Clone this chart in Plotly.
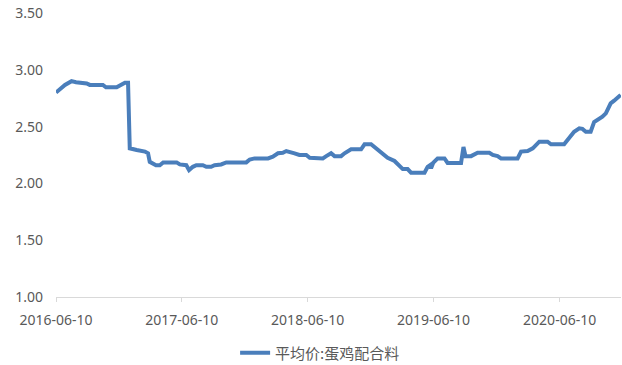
import plotly.graph_objects as go

# Weekly average price of layer compound feed (yuan/kg)
dates = [
    "2016-06-10", "2016-07-06", "2016-07-25", "2016-08-07", "2016-09-07", "2016-09-16",
    "2016-10-24", "2016-11-02", "2016-12-03", "2016-12-17", "2016-12-27", "2017-01-05",
    "2017-01-10", "2017-01-30", "2017-02-23", "2017-03-04", "2017-03-09", "2017-03-27",
    "2017-04-07", "2017-04-17", "2017-05-26", "2017-06-04", "2017-06-23", "2017-07-01",
    "2017-07-12", "2017-07-22", "2017-08-10", "2017-08-20", "2017-09-03", "2017-09-13",
    "2017-10-02", "2017-10-17", "2017-12-14", "2017-12-24", "2018-01-07", "2018-02-15",
    "2018-03-01", "2018-03-16", "2018-03-30", "2018-04-09", "2018-04-19", "2018-05-03",
    "2018-05-17", "2018-06-06", "2018-06-16", "2018-07-24", "2018-08-03", "2018-08-17",
    "2018-08-27", "2018-09-15", "2018-09-25", "2018-10-09", "2018-10-14", "2018-11-12",
    "2018-11-22", "2018-12-11", "2018-12-26", "2019-01-09", "2019-01-28", "2019-02-17",
    "2019-03-03", "2019-03-13", "2019-03-27", "2019-04-06", "2019-05-15", "2019-05-24",
    "2019-05-31", "2019-06-03", "2019-06-09", "2019-06-22", "2019-07-12", "2019-07-21",
    "2019-08-29", "2019-09-05", "2019-09-11", "2019-09-27", "2019-10-16", "2019-11-19",
    "2019-11-29", "2019-12-13", "2019-12-23", "2020-02-09", "2020-02-19", "2020-03-09",
    "2020-03-24", "2020-04-12", "2020-05-06", "2020-05-16", "2020-06-23", "2020-07-08",
    "2020-07-22", "2020-08-06", "2020-08-15", "2020-08-25", "2020-09-08", "2020-09-18",
    "2020-10-03", "2020-10-12", "2020-10-22", "2020-11-05", "2020-11-15", "2020-12-04",
]
prices = [
    2.80, 2.867, 2.90, 2.89, 2.88, 2.867,
    2.867, 2.846, 2.846, 2.876, 2.887, 2.887,
    2.309, 2.294, 2.28, 2.265, 2.19, 2.16,
    2.16, 2.185, 2.185, 2.167, 2.16, 2.117,
    2.146, 2.16, 2.16, 2.146, 2.146, 2.16,
    2.167, 2.185, 2.185, 2.21, 2.22, 2.22,
    2.235, 2.265, 2.27, 2.285, 2.28, 2.265,
    2.25, 2.25, 2.226, 2.22, 2.24, 2.265,
    2.24, 2.24, 2.265, 2.294, 2.30, 2.30,
    2.344, 2.344, 2.309, 2.273, 2.226, 2.197,
    2.16, 2.126, 2.126, 2.094, 2.094, 2.146,
    2.16, 2.132, 2.18, 2.22, 2.22, 2.18,
    2.18, 2.32, 2.24, 2.24, 2.27, 2.27,
    2.25, 2.24, 2.22, 2.22, 2.28, 2.285,
    2.309, 2.367, 2.367, 2.344, 2.344, 2.397,
    2.455, 2.485, 2.48, 2.455, 2.455, 2.54,
    2.567, 2.587, 2.617, 2.705, 2.728, 2.779,
]

x_tick_vals = ["2016-06-10", "2017-06-10", "2018-06-10", "2019-06-10", "2020-06-10"]
x_tick_text = ["2016-06-10", "2017-06-10", "2018-06-10", "2019-06-10", "2020-06-10"]
y_tick_vals = [1.0, 1.5, 2.0, 2.5, 3.0, 3.5]

series_name = "平均价:蛋鸡配合料"
line_color = "#4a7ebb"
text_color = "#595959"
axis_color = "#d9d9d9"

fig = go.Figure()
fig.add_trace(go.Scatter(
    x=dates, y=prices, mode="lines", name=series_name,
    line=dict(color=line_color, width=4),
))

fig.update_layout(
    width=622, height=365,
    margin=dict(l=56, r=1, t=13, b=68, autoexpand=False),
    paper_bgcolor="white", plot_bgcolor="white",
    font=dict(family="Noto Sans, Open Sans, sans-serif", size=14, color=text_color),
    showlegend=True,
    legend=dict(
        orientation="h", x=0.317, xanchor="left", y=-0.197, yanchor="middle",
        font=dict(family="Noto Sans CJK SC", size=15, color=text_color),
        bgcolor="rgba(0,0,0,0)",
    ),
    xaxis=dict(
        type="date", range=["2016-06-10", "2020-12-05"],
        tickmode="array", tickvals=x_tick_vals, ticktext=x_tick_text,
        showgrid=False, zeroline=False, automargin=False,
        showline=True, linecolor=axis_color, linewidth=1,
        ticks="outside", ticklen=4, tickcolor=axis_color, tickwidth=1,
        ticklabelstandoff=6,
        tickfont=dict(size=14, color=text_color),
    ),
    yaxis=dict(
        range=[1.0, 3.5], tickmode="array", tickvals=y_tick_vals,
        tickformat=".2f", showgrid=False, zeroline=False, showline=False,
        automargin=False, ticks="", ticklabelstandoff=12,
        tickfont=dict(size=14, color=text_color),
    ),
)

fig.write_html("out.html")
